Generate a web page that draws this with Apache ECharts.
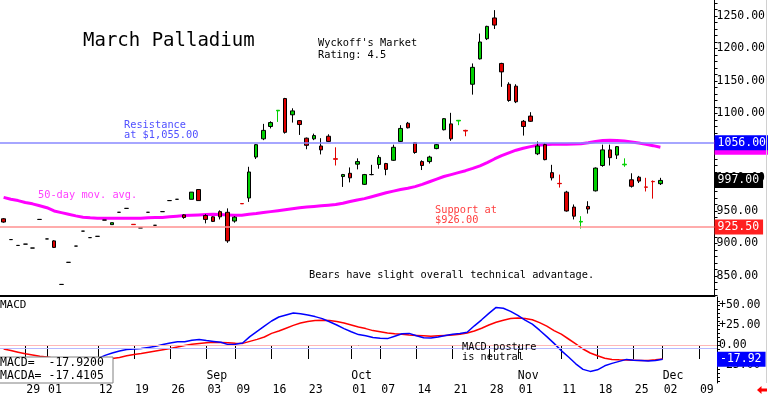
<!DOCTYPE html>
<html>
<head>
<meta charset="utf-8">
<title>March Palladium</title>
<script src="https://cdn.jsdelivr.net/npm/echarts@6/dist/echarts.min.js"></script>
<style>
html, body { margin: 0; padding: 0; background: #fff; }
#chart { width: 768px; height: 397px; }
</style>
</head>
<body>
<div id="chart"></div>
<script>
// trading days shown on the chart
var dates = [
	'2024-07-24','2024-07-25','2024-07-26','2024-07-29','2024-07-30','2024-07-31',
	'2024-08-01','2024-08-02','2024-08-05','2024-08-06','2024-08-07','2024-08-08','2024-08-09',
	'2024-08-12','2024-08-13','2024-08-14','2024-08-15','2024-08-16','2024-08-19','2024-08-20',
	'2024-08-21','2024-08-22','2024-08-23','2024-08-26','2024-08-27','2024-08-28','2024-08-29','2024-08-30',
	'2024-09-03','2024-09-04','2024-09-05','2024-09-06','2024-09-09','2024-09-10','2024-09-11',
	'2024-09-12','2024-09-13','2024-09-16','2024-09-17','2024-09-18','2024-09-19','2024-09-20',
	'2024-09-23','2024-09-24','2024-09-25','2024-09-26','2024-09-27','2024-09-30',
	'2024-10-01','2024-10-02','2024-10-03','2024-10-04','2024-10-07','2024-10-08','2024-10-09',
	'2024-10-10','2024-10-11','2024-10-14','2024-10-15','2024-10-16','2024-10-17','2024-10-18',
	'2024-10-21','2024-10-22','2024-10-23','2024-10-24','2024-10-25','2024-10-28','2024-10-29',
	'2024-10-30','2024-10-31',
	'2024-11-01','2024-11-04','2024-11-05','2024-11-06','2024-11-07','2024-11-08','2024-11-11',
	'2024-11-12','2024-11-13','2024-11-14','2024-11-15','2024-11-18','2024-11-19','2024-11-20',
	'2024-11-21','2024-11-22','2024-11-25','2024-11-26','2024-11-27','2024-11-29',
	'2024-12-02','2024-12-03','2024-12-04','2024-12-05','2024-12-06','2024-12-09','2024-12-10','2024-12-11'
];
var tickDates = ['2024-07-29','2024-08-01','2024-08-12','2024-08-19','2024-08-26','2024-09-03',
	'2024-09-09','2024-09-16','2024-09-23','2024-10-01','2024-10-07','2024-10-14','2024-10-21',
	'2024-10-28','2024-11-01','2024-11-11','2024-11-18','2024-11-25','2024-12-02','2024-12-09'];
var monthDates = ['2024-09-03','2024-10-01','2024-11-01','2024-12-02'];
var monthNames = ['Sep','Oct','Nov','Dec'];

var opens = [938,906,897,899,893,937,907,904,837,871,
	896,919,909,911,936,929,948,954,929.5,924,
	948,928,949,966,968,944,968,983,943,941,
	949,948,934.5,961.5,970,1033,1061,1080,1104,1123,
	1098,1089,1062,1061,1050,1065,1030.5,1003,1008,1022,
	991,1006,1021.5,1023,1028,1057,1085,1055,1026,1026,
	1046,1075,1084,1088.5,1074,1145,1184,1215,1247,1177,
	1145,1142,1088,1096,1038,1052,1009,992.5,979,956,
	933,957,981,1020,1044,1036,1021,998,1002,987,
	995.5,992];
var closes = [933,906,897,899,893,937,907,894,837,871,
	896,919,909,911,936,932,948,954,929,924,
	948,928,949,966,968,940,979,966,937,934,
	941,904,940.5,961,1010,1052,1074,1086,1105,1071,
	1104,1083,1051,1066,1044,1057,1029.5,1006,1001,1026,
	1006,1006,1032.5,1014,1048,1077,1078,1040,1020,1033,
	1052,1092,1061,1089.5,1073,1171,1210,1234,1236,1164,
	1120,1118,1080,1088,1050,1029,1001,992,950,942,
	934,953,1016,1044,1032,1049,1022,988,996,986.5,
	995,997];
var lows = [932,906,897,899,893,937,907,893,837,871,
	896,919,909,911,936,929,948,954,929,924,
	948,928,949,966,968,938,968,966,931,933,
	937,901,932,961,964,1030,1059,1077,1087,1069,
	1086,1067,1045,1059,1037,1056,1020,987,994,1014,
	990,1005,1015,1005,1027,1056,1077,1038,1013,1023,
	1045,1074,1058,1082,1065,1129,1183,1213,1230,1141,
	1118,1116,1066,1087,1036,1028,997,986,949,937,
	923,946,980,1018,1020,1030,1018,986,993,980,
	969,990];
var highs = [939,906,897,899,893,937,907,905,837,871,
	896,919,909,911,936,932,948,954,929.5,924,
	948,928,949,966,968,945,979,983,945,942,
	951,954,942,961.5,1018,1053,1084,1088,1105,1124,
	1108,1090,1063,1069,1062,1068,1048,1007,1017,1031,
	1007,1021,1036,1024,1052,1082,1087,1056,1028,1035,
	1053,1093,1101,1090,1075,1177,1223,1235,1259,1178,
	1148,1145,1090,1102,1057,1054,1021,1006,981,960,
	942,965,1017,1052,1052,1050,1031,1008,1004,1001,
	997,1001];
var ma50 = [971,968,966,963,961,958,955,950,947.5,945,
	942.5,940.5,939.5,939,939,939,939,939,939,939,
	939.5,940,940,941,942,943,943.5,944,944.5,945,
	944.5,944,943.5,943.5,945,946,947.5,949,950.5,952,
	953.5,955,956,957,958,959,960,962,964.5,967,
	969,972,975,978,980.5,983,985,987.5,991,995,
	999,1003,1006,1009,1012,1015.5,1019.5,1024.5,1030,1035,
	1039.5,1043.5,1046.5,1049,1051,1052,1052.5,1052.5,1052.5,1053,
	1053.5,1055,1057,1058.5,1059,1058.5,1057.5,1056,1054.5,1052.5,
	1050.5,1048];
var macd = [-17,-19,-20,-21,-22,-21,-22,-24,-29,-30,
	-28,-25,-21,-17,-13,-10,-7.5,-5.5,-5,-4.5,
	-3,-1.5,0.5,2.5,4,4.2,6,7,5.5,4.5,
	3.5,0.5,1,2.5,10.5,17,23.5,30,35,37.5,
	40,39,37.5,35.5,33,29,25,20.5,16.5,13,
	11.5,9.5,8.5,8,11,14,14.5,11.5,9,8.75,
	10,12,13.5,14.5,16,24,31.5,39.5,47,46,
	42,37,31,26,18.5,10.5,2,-7,-15,-23.5,
	-30.5,-33,-31,-26,-23,-20.5,-18,-19,-19.5,-20,
	-19.5,-17.92];
var macda = [-5,-7,-9,-11,-12.5,-14,-15,-16.5,-18,-19,
	-19.5,-19.5,-19.5,-19,-18.5,-17,-15.5,-13.5,-11.8,-10.5,
	-9,-7.5,-6,-4.5,-2.5,-0.5,1,2,2.8,3.3,
	3.2,2.8,2.3,2,4.5,7,10,14.5,17.5,21,
	24.5,27.5,29.5,30.5,31,30.5,29.5,27.5,25,22.5,
	20.5,18,16.5,15,14,13.5,12.5,12,11.5,11,
	11.5,12,12.5,13.5,15,17.5,21,25,28.5,31,
	33,33.75,33,31.5,28,23.5,18,13.5,7.5,1.5,
	-5,-10,-13.5,-16.5,-18,-18.5,-18.75,-19,-19.5,-19.5,
	-18.5,-17.4105];

var priceLabels = [850, 900, 950, 1000, 1050, 1100, 1150, 1200, 1250];
var macdLabels = [50, 25, 0, -25];
var resistance = 1055, resistanceQuote = 1056;
var support = 925.5;
var lastPrice = 997;

var UP = '#00d000', DOWN = '#e00000';
var MONO = 'DejaVu Sans Mono';

var candleData = opens.map(function (o, i) {
	var c = closes[i];
	var item = { value: [o, c, lows[i], highs[i]] };
	// tiny bodies show as coloured dashes
	if (o !== c && Math.abs(o - c) < 2) {
		var col = c > o ? UP : DOWN;
		item.itemStyle = { borderColor: col, borderColor0: col };
	}
	return item;
});

var priceTicks = [];
for (var p = 820; p <= 1270; p += 10) priceTicks.push(p);
var macdTicks = [];
for (var m = -45; m <= 55; m += 5) macdTicks.push(m);

function boxLabel(text, bg) {
	return {
		show: true, position: 'end', distance: 0, formatter: text,
		color: '#fff', backgroundColor: bg, padding: [2, 4, 1, 3],
		fontFamily: MONO, fontSize: 11.5
	};
}
function noLine() {
	return { color: 'transparent', width: 0 };
}
function txt(x, y, text, size, color, lh) {
	return {
		type: 'text', z: 50,
		style: { x: x, y: y, text: text, fill: color || '#000',
			font: size + 'px "' + MONO + '"', lineHeight: lh || size, verticalAlign: 'middle' }
	};
}

var chart = echarts.init(document.getElementById('chart'));
chart.setOption({
	animation: false,
	backgroundColor: '#fff',
	grid: [
		{ left: -2, right: 51, top: 0, height: 296 },
		{ left: -2, right: 51, top: 297, height: 86 }
	],
	xAxis: [
		{
			gridIndex: 0, type: 'category', data: dates, boundaryGap: true,
			axisLine: { lineStyle: { color: '#000', width: 2 } },
			axisTick: { show: false }, axisLabel: { show: false }, splitLine: { show: false }
		},
		{
			gridIndex: 1, type: 'category', data: dates, boundaryGap: true,
			axisLine: { lineStyle: { color: '#000', width: 1 } },
			axisTick: {
				show: true, alignWithLabel: true, length: 14,
				lineStyle: { color: '#000' },
				interval: function (idx, val) { return tickDates.indexOf(val) >= 0; }
			},
			axisLabel: {
				interval: function (idx, val) { return tickDates.indexOf(val) >= 0; },
				formatter: function (v) { return v.slice(8); },
				align: 'left', margin: 1, padding: [0, 0, 0, 1],
				color: '#000', fontFamily: MONO, fontSize: 11.5
			},
			splitLine: { show: false }
		},
		{
			gridIndex: 1, type: 'category', data: dates, boundaryGap: true, position: 'bottom',
			axisLine: { show: false }, axisTick: { show: false },
			axisLabel: {
				inside: true, margin: 1, align: 'left',
				interval: function (idx, val) { return monthDates.indexOf(val) >= 0; },
				formatter: function (v) { return monthNames[monthDates.indexOf(v)]; },
				color: '#000', fontFamily: MONO, fontSize: 11.5
			},
			splitLine: { show: false }
		}
	],
	yAxis: [
		{
			gridIndex: 0, type: 'value', position: 'right', min: 819.2, max: 1274.6,
			splitLine: { show: false },
			axisLine: { show: true, lineStyle: { color: '#000' } },
			axisTick: { show: true, customValues: priceTicks, length: 3, lineStyle: { color: '#000' } },
			axisLabel: {
				customValues: priceLabels, margin: 2,
				formatter: function (v) { return v.toFixed(2); },
				color: '#000', fontFamily: MONO, fontSize: 11.5
			}
		},
		{
			gridIndex: 1, type: 'value', position: 'right', min: -47.5, max: 60,
			splitLine: { show: false },
			axisLine: { show: true, lineStyle: { color: '#000' } },
			axisTick: { show: true, customValues: macdTicks, length: 3, lineStyle: { color: '#000' } },
			axisLabel: {
				customValues: macdLabels, margin: 2,
				formatter: function (v) { return (v > 0 ? '+' : '') + v.toFixed(2); },
				color: '#000', fontFamily: MONO, fontSize: 11.5
			}
		}
	],
	series: [
		{
			name: '50-day', type: 'line', xAxisIndex: 0, yAxisIndex: 0, data: ma50,
			symbol: 'none', clip: false, z: 2,
			lineStyle: { color: '#ff00ff', width: 3 },
			markLine: {
				silent: true, symbol: ['none', 'none'],
				data: [{
					yAxis: ma50[ma50.length - 1], lineStyle: noLine(),
					label: boxLabel(ma50[ma50.length - 1].toFixed(2), '#ff00ff')
				}]
			}
		},
		{
			name: 'Palladium', type: 'candlestick', xAxisIndex: 0, yAxisIndex: 0,
			data: candleData, barWidth: 4, clip: false, z: 3,
			itemStyle: { color: UP, color0: DOWN, borderColor: '#000', borderColor0: '#000', borderWidth: 1 },
			markLine: {
				silent: true, symbol: ['none', 'none'],
				data: [
					{ yAxis: resistance, lineStyle: { color: '#8888ff', width: 1.5, type: 'solid' },
						label: boxLabel(resistanceQuote.toFixed(2), '#0000ff') },
					{ yAxis: support, lineStyle: { color: '#ff9090', width: 1.5, type: 'solid' },
						label: boxLabel(support.toFixed(2), '#ff2020') },
					{ yAxis: lastPrice, lineStyle: noLine(),
						label: boxLabel(lastPrice.toFixed(2), '#000') }
				]
			}
		},
		{
			name: 'MACD', type: 'line', xAxisIndex: 1, yAxisIndex: 1, data: macd,
			symbol: 'none', clip: false, z: 3,
			lineStyle: { color: '#0000ff', width: 1.5 },
			markLine: {
				silent: true, symbol: ['none', 'none'],
				data: [
					{ yAxis: 0, lineStyle: { color: '#ffb8b8', width: 1, type: 'solid' }, label: { show: false } },
					{ yAxis: -4, lineStyle: { color: '#b8b8ff', width: 1, type: 'solid' }, label: { show: false } },
					{ yAxis: macd[macd.length - 1], lineStyle: noLine(),
						label: boxLabel(macd[macd.length - 1].toFixed(2), '#0000ff') }
				]
			}
		},
		{
			name: 'MACDA', type: 'line', xAxisIndex: 1, yAxisIndex: 1, data: macda,
			symbol: 'none', clip: false, z: 2,
			lineStyle: { color: '#ff0000', width: 1.5 }
		}
	],
	graphic: [
		txt(83, 41, 'March Palladium', 19),
		txt(318, 49.3, "Wyckoff's Market\nRating: 4.5", 10.3, '#000', 11.4),
		txt(124, 130.7, 'Resistance\nat $1,055.00', 10.3, '#5050ff', 10),
		txt(38, 195, '50-day mov. avg.', 10.3, '#ff40ff'),
		txt(435, 215.7, 'Support at\n$926.00', 10.3, '#ff4040', 10),
		txt(309, 275, 'Bears have slight overall technical advantage.', 10.3),
		txt(462, 352.5, 'MACD posture\nis neutral', 10.3, '#000', 10.4),
		txt(0, 305, 'MACD', 11),
		{
			type: 'rect', z: 60,
			shape: { x: -1, y: 357, width: 114, height: 26 },
			style: { fill: '#fff', stroke: '#808080', lineWidth: 1 }
		},
		{
			type: 'text', z: 61,
			style: {
				x: 0, y: 369.5, verticalAlign: 'middle', lineHeight: 12.5, fill: '#000',
				font: '11.5px "' + MONO + '"',
				text: 'MACD=  ' + macd[macd.length - 1].toFixed(4) + '\nMACDA= ' + macda[macda.length - 1].toFixed(4)
			}
		},
		{
			type: 'line', z: 40,
			shape: { x1: 766.5, y1: 0, x2: 766.5, y2: 383 },
			style: { stroke: '#d0d0d0', lineWidth: 1 }
		},
		{
			type: 'polygon', z: 60,
			shape: { points: [[757, 390], [761.5, 386], [761.5, 388.5], [767, 388.5], [767, 391.5], [761.5, 391.5], [761.5, 394]] },
			style: { fill: '#ff0000' }
		}
	]
});
</script>
</body>
</html>
